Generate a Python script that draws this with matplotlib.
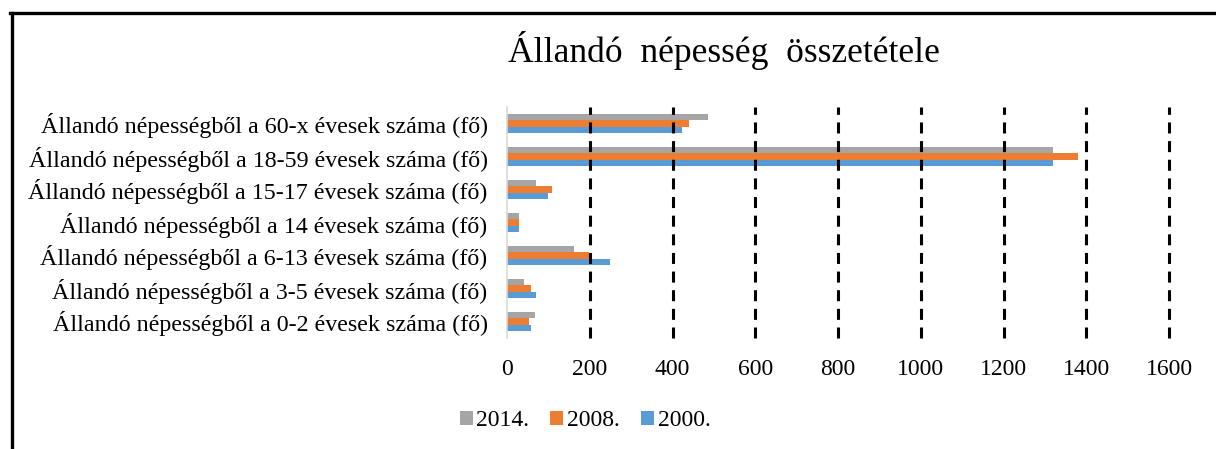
import numpy as np
import matplotlib
matplotlib.use("Agg")
import matplotlib.pyplot as plt
from matplotlib.lines import Line2D

plt.rcParams['font.family'] = ['Liberation Serif', 'DejaVu Serif']

# korcsoportok alulról felfelé
categories = [
    "Állandó népességből a 0-2 évesek száma (fő)",
    "Állandó népességből a 3-5 évesek száma (fő)",
    "Állandó népességből a 6-13 évesek száma (fő)",
    "Állandó népességből a 14 évesek száma (fő)",
    "Állandó népességből a 15-17 évesek száma (fő)",
    "Állandó népességből a 18-59 évesek száma (fő)",
    "Állandó népességből a 60-x évesek száma (fő)",
]
years = ["2000.", "2008.", "2014."]
vals_2000 = [57, 69, 250, 28, 98, 1320, 422]
vals_2008 = [54, 57, 199, 30, 108, 1380, 439]
vals_2014 = [67, 42, 161, 30, 69, 1320, 487]
colors = {"2000.": "#5B9BD5", "2008.": "#ED7D31", "2014.": "#A5A5A5"}
xticks = [0, 200, 400, 600, 800, 1000, 1200, 1400, 1600]

fig = plt.figure(figsize=(12.16, 4.49), dpi=100)
ax = fig.add_axes([507 / 1216, 1 - 338 / 449, 662 / 1216, 231 / 449])

y = np.arange(len(categories))
h = 0.2
series = {"2000.": vals_2000, "2008.": vals_2008, "2014.": vals_2014}
for i, yr in enumerate(years):
    ax.barh(y + (i - 1) * h, series[yr], height=h, color=colors[yr],
            label=yr, zorder=1)

ax.set_xlim(0, 1600)
ax.set_ylim(-0.5, len(categories) - 0.5)
ax.set_xticks(xticks)
ax.set_xticklabels([str(t) for t in xticks], fontsize=17)
ax.set_yticks(y)
ax.set_yticklabels(categories, fontsize=17.3)
ax.tick_params(axis='both', length=0)
ax.tick_params(axis='x', pad=15)
ax.tick_params(axis='y', pad=14)

for t in xticks[1:]:
    ax.axvline(t, color='black', linewidth=2.2, linestyle=(0, (3.6, 2.5)),
               zorder=2, clip_on=False)

for s in ['top', 'right', 'bottom']:
    ax.spines[s].set_visible(False)
ax.spines['left'].set_color('#D9D9D9')
ax.spines['left'].set_linewidth(1.2)

fig.text(724 / 1216, 1 - 50 / 449, "Állandó  népesség  összetétele",
         ha='center', va='center', fontsize=25.6)

handles, labels = ax.get_legend_handles_labels()
handles, labels = handles[::-1], labels[::-1]
fig.legend(handles, labels, loc='center', bbox_to_anchor=(585 / 1216, 1 - 421 / 449),
           ncol=3, frameon=False, fontsize=17, handlelength=0.55,
           handleheight=0.55, handletextpad=0.15, columnspacing=0.9)

# keret a bal és felső oldalon
fig.add_artist(Line2D([11.5 / 1216, 11.5 / 1216], [0, 1 - 12.5 / 449],
                      transform=fig.transFigure, color='black', linewidth=2.4))
fig.add_artist(Line2D([10.3 / 1216, 1], [1 - 12.5 / 449, 1 - 12.5 / 449],
                      transform=fig.transFigure, color='black', linewidth=2.4))

fig.savefig("out.png", dpi=100, facecolor='white')
